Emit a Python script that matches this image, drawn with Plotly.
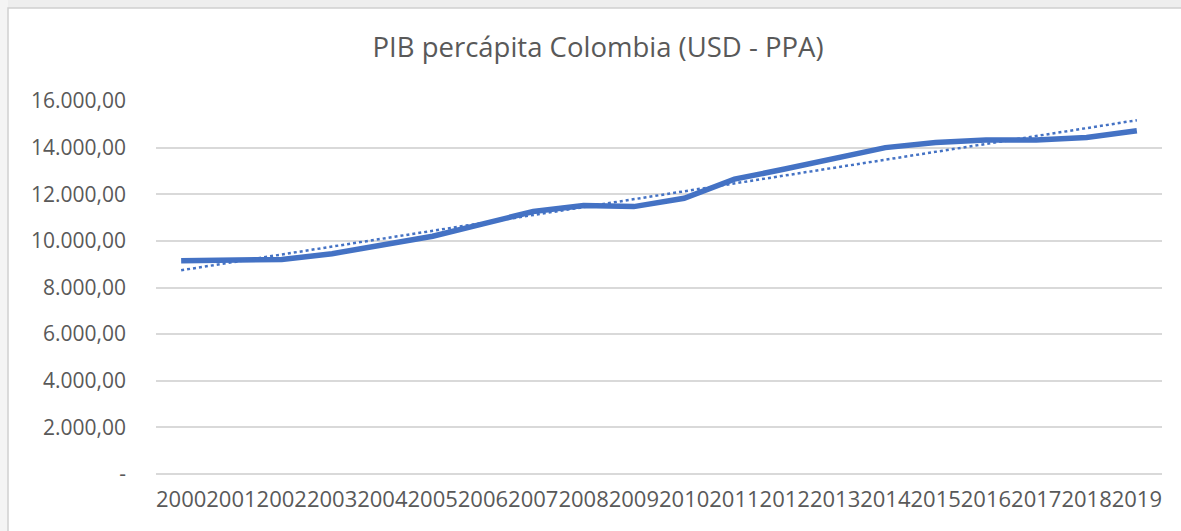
import numpy as np
import plotly.graph_objects as go

years = [str(y) for y in range(2000, 2020)]
pib = [9150, 9170, 9200, 9450, 9850, 10200, 10730, 11260, 11520, 11470,
       11830, 12650, 13080, 13550, 14000, 14220, 14330, 14330, 14430, 14720]
ytick_vals = [0, 2000, 4000, 6000, 8000, 10000, 12000, 14000, 16000]
ytick_text = ["-", "2.000,00", "4.000,00", "6.000,00", "8.000,00",
              "10.000,00", "12.000,00", "14.000,00", "16.000,00"]
title_text = "PIB percápita Colombia (USD - PPA)"

# linear trend line (least squares fit of the series)
idx = np.arange(len(pib))
slope, intercept = np.polyfit(idx, pib, 1)
trend = (slope * idx + intercept).tolist()

BLUE = "#4472C4"
GRAY = "#595959"
FONT = "Open Sans"

fig = go.Figure()
fig.add_trace(go.Scatter(x=years, y=pib, mode="lines",
                         line=dict(color=BLUE, width=5.5), showlegend=False))
fig.add_trace(go.Scatter(x=years, y=trend, mode="lines",
                         line=dict(color=BLUE, width=2.5, dash="dot"), showlegend=False))

W, H = 1181, 531
L, R, T, B = 156, 19, 101, 57
pw, ph = W - L - R, H - T - B

def px_x(x):
    return (x - L) / pw

def px_y(y):
    return (H - B - y) / ph

fig.update_layout(
    width=W, height=H,
    margin=dict(l=L, r=R, t=T, b=B),
    paper_bgcolor="white", plot_bgcolor="white",
    font=dict(family=FONT, color=GRAY),
    title=dict(text=title_text, x=598 / W, xref="container", xanchor="center",
               y=1 - 47.5 / H, yref="container", yanchor="middle",
               font=dict(family=FONT, size=27.5, color=GRAY)),
    xaxis=dict(type="category", range=[-0.5, len(years) - 0.5], tickangle=0,
               showgrid=False, showline=False, ticks="",
               tickfont=dict(family=FONT, size=22, color=GRAY),
               ticklabelstandoff=10, fixedrange=True),
    yaxis=dict(range=[0, 16000], tickvals=ytick_vals, ticktext=ytick_text,
               showgrid=True, gridcolor="#d9d9d9", gridwidth=1.5,
               zeroline=True, zerolinecolor="#d9d9d9", zerolinewidth=1.5,
               showline=False, ticks="",
               tickfont=dict(family=FONT, size=21, color=GRAY),
               ticklabelstandoff=29, fixedrange=True),
    shapes=[
        dict(type="rect", xref="paper", yref="paper",
             x0=px_x(0), x1=px_x(W + 5), y0=px_y(0), y1=px_y(8),
             fillcolor="#eeeeee", line=dict(width=0), layer="below"),
        dict(type="rect", xref="paper", yref="paper",
             x0=px_x(0), x1=px_x(8), y0=px_y(H + 5), y1=px_y(0),
             fillcolor="#f4f4f4", line=dict(width=0), layer="below"),
        dict(type="rect", xref="paper", yref="paper",
             x0=px_x(8), x1=px_x(W + 10), y0=px_y(H + 10), y1=px_y(8),
             line=dict(color="#d0d0d0", width=1.5), layer="below"),
    ],
)

fig.write_html("out.html", config={"displayModeBar": False},
               post_script="document.body.style.margin='0px';document.body.style.overflow='hidden';")
